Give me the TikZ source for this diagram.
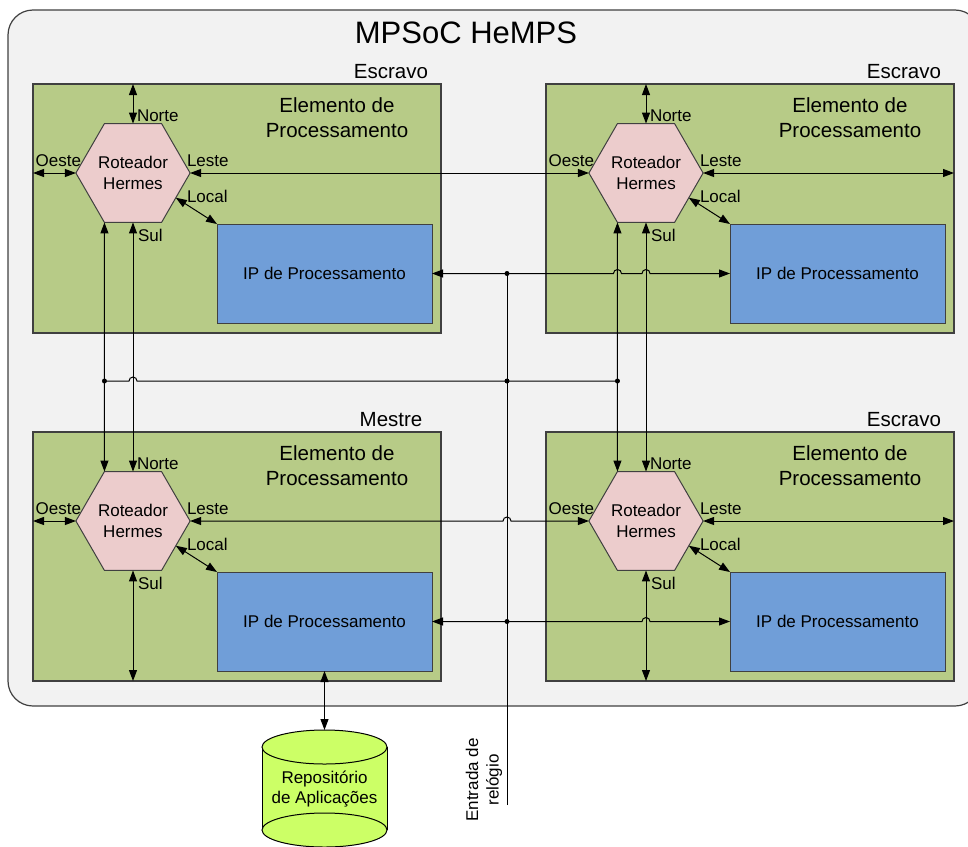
\documentclass[tikz,border=0pt]{standalone}
\usepackage{fontspec}
\setmainfont{Liberation Sans}
\usetikzlibrary{shapes.geometric,arrows.meta,positioning,calc}

\definecolor{hempsgray}{RGB}{242,242,242}
\definecolor{pegreen}{RGB}{183,203,135}
\definecolor{rtpink}{RGB}{236,204,204}
\definecolor{ipblue}{RGB}{112,158,216}
\definecolor{repolime}{RGB}{204,255,102}
\definecolor{framegray}{RGB}{64,64,64}

\newcommand{\titlefont}{\fontsize{31pt}{36pt}\selectfont}
\newcommand{\pefont}{\fontsize{20.5pt}{25pt}\selectfont}
\newcommand{\portfont}{\fontsize{17pt}{20.5pt}\selectfont}

\tikzset{
  every node/.style={outer sep=0pt},
  >={Triangle[length=11pt,width=8pt]},
  link/.style={<->},
  hemps box/.style={draw=framegray, fill=hempsgray, rounded corners=25pt, minimum width=972pt, minimum height=696pt, line width=1.2pt},
  pebox/.style={draw=framegray, fill=pegreen, minimum width=408pt, minimum height=249pt, line width=1.2pt},
  rtbox/.style={regular polygon, regular polygon sides=6, minimum size=114pt, inner sep=0pt, draw=framegray, fill=rtpink, align=center, font=\portfont},
  ipbox/.style={draw=framegray, fill=ipblue, minimum width=215pt, minimum height=99pt, font=\portfont},
  petext/.style={align=center, font=\pefont},
  role/.style={font=\pefont},
  port/.style={font=\portfont, inner sep=1pt},
}

\begin{document}
\begin{tikzpicture}[x=1pt, y=-1pt, line width=1pt]
  \useasboundingbox (0,0) rectangle (968,846);

  % HeMPS frame
  \node[hemps box, anchor=north west] (hemps) at (8,10) {};
  \node[font=\titlefont] (title) at (466,33) {MPSoC HeMPS};

  % processing elements
  \foreach \n/\x/\y/\role in {tl/33/84/Escravo, tr/546/84/Escravo, bl/33/432/Mestre, br/546/432/Escravo}{
    \node[pebox, anchor=north west] (pe\n) at (\x,\y) {};
    \node[role] (role\n) at (\x+358,\y-12) {\role};
    \node[petext] (pet\n) at (\x+304,\y+34) {Elemento de\\Processamento};
    \node[rtbox] (rt\n) at (\x+100,\y+89) {Roteador\\Hermes};
    \node[ipbox] (ip\n) at (\x+291.5,\y+189.5) {IP de Processamento};
    \node[port, anchor=west] (norte\n) at ($(rt\n)+(3,-57)$) {Norte};
    \node[port, anchor=east] (oeste\n) at ($(rt\n)+(-51,-12)$) {Oeste};
    \node[port, anchor=west] (leste\n) at ($(rt\n)+(53,-12)$) {Leste};
    \node[port, anchor=west] (local\n) at ($(rt\n)+(53,23)$) {Local};
    \node[port, anchor=west] (sul\n) at ($(rt\n)+(4,62)$) {Sul};
    \draw[link] (rt\n.-30) -- (ip\n.north west);
  }

  \coordinate (clk) at (507,805);
  \coordinate (bus) at (0,381);

  % router links
  \draw[link] (rttl.0) -- (rttr.180);
  \draw[link] (rtbl.0) -- ([xshift=-4pt]rtbl.0 -| clk) arc[start angle=180, end angle=360, radius=4] -- (rtbr.180);
  \draw[link] (rttl.270) -- (rtbl.90);
  \draw[link] (rttl.240) -- (rtbl.120);
  \draw[link] (rttr.270) -- (rtbr.90);
  \draw[link] (rttr.240) -- (rtbr.120);

  % open ports
  \draw[link] (rttl.90) -- (rttl.90 |- petl.north);
  \draw[link] (rttr.90) -- (rttr.90 |- petr.north);
  \draw[link] (rttl.180) -- (rttl.180 -| petl.west);
  \draw[link] (rtbl.180) -- (rtbl.180 -| pebl.west);
  \draw[link] (rttr.0) -- (rttr.0 -| petr.east);
  \draw[link] (rtbr.0) -- (rtbr.0 -| pebr.east);
  \draw[link] (rtbl.270) -- (rtbl.270 |- pebl.south);
  \draw[link] (rtbr.270) -- (rtbr.270 |- pebr.south);

  % clock
  \draw (clk) -- (clk |- iptl.east);
  \draw (rttl.240 |- bus) -- ([xshift=-4pt]rttl.270 |- bus) arc[start angle=180, end angle=360, radius=4] -- (rttr.240 |- bus);
  \draw[link] (iptl.east) -- ([xshift=-4pt]iptl.east -| rttr.240) arc[start angle=180, end angle=360, radius=4]
    -- ([xshift=-4pt]iptl.east -| rttr.270) arc[start angle=180, end angle=360, radius=4] -- (iptr.west);
  \draw[link] (ipbl.east) -- ([xshift=-4pt]ipbl.east -| rtbr.270) arc[start angle=180, end angle=360, radius=4] -- (ipbr.west);
  \foreach \p in {rttl.240 |- bus, clk |- bus, rttr.240 |- bus, clk |- iptl.east, clk |- ipbl.east}
    \fill (\p) circle[radius=2.5];
  \node[rotate=90, align=center, font=\portfont] (clklbl) at (484,780) {Entrada de\\relógio};

  % repository
  \fill[repolime] (262,747) rectangle (387,830);
  \draw (262,747) -- (262,830) (387,747) -- (387,830);
  \draw[fill=repolime] (324.5,830) ellipse[x radius=62.5, y radius=17];
  \draw[fill=repolime] (324.5,747) ellipse[x radius=62.5, y radius=17];
  \coordinate (repotop) at (324.5,730);
  \node[align=center, font=\portfont] (repo) at (324.5,789) {Repositório\\de Aplicações};
  \draw[link] (ipbl.south) -- (repotop);
\end{tikzpicture}
\end{document}
